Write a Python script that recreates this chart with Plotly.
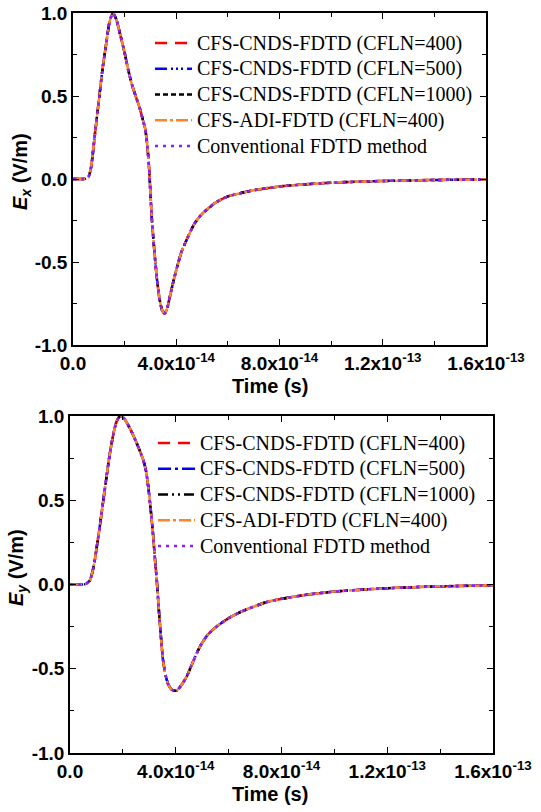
import plotly.graph_objects as go

# ---------------- data ----------------
# Top panel: Ex (V/m) vs time (s)
time_x = [0, 0.40e-14, 0.50e-14, 0.60e-14, 0.70e-14, 0.85e-14, 1.00e-14, 1.15e-14, 1.30e-14,
          1.42e-14, 1.55e-14, 1.68e-14, 1.83e-14, 2.00e-14, 2.15e-14, 2.30e-14, 2.45e-14,
          2.60e-14, 2.70e-14, 2.80e-14, 2.88e-14, 2.95e-14, 3.05e-14, 3.15e-14, 3.25e-14,
          3.35e-14, 3.45e-14, 3.55e-14, 3.65e-14, 3.75e-14, 3.90e-14, 4.05e-14, 4.20e-14,
          4.45e-14, 4.70e-14, 5.00e-14, 5.50e-14, 6.00e-14, 7.00e-14, 8.00e-14, 9.00e-14,
          1.0e-13, 1.2e-13, 1.4e-13, 1.6e-13]
ex_vals = [0, 0, 0.002, 0.012, 0.07, 0.27, 0.47, 0.67, 0.83,
           0.95, 1.00, 0.96, 0.87, 0.76, 0.65, 0.56, 0.49,
           0.42, 0.36, 0.30, 0.20, 0.06, -0.23, -0.43, -0.60,
           -0.72, -0.79, -0.81, -0.78, -0.71, -0.61, -0.52, -0.44,
           -0.35, -0.27, -0.21, -0.145, -0.105, -0.068, -0.045, -0.032,
           -0.022, -0.012, -0.006, -0.003]

# Bottom panel: Ey (V/m) vs time (s)
time_y = [0, 0.50e-14, 0.60e-14, 0.75e-14, 0.90e-14, 1.01e-14, 1.15e-14, 1.26e-14, 1.40e-14,
          1.51e-14, 1.65e-14, 1.76e-14, 1.90e-14, 2.05e-14, 2.20e-14, 2.35e-14, 2.52e-14,
          2.65e-14, 2.77e-14, 2.88e-14, 2.96e-14, 3.05e-14, 3.14e-14, 3.22e-14, 3.28e-14,
          3.37e-14, 3.45e-14, 3.52e-14, 3.62e-14, 3.71e-14, 3.85e-14, 4.03e-14, 4.20e-14,
          4.40e-14, 4.65e-14, 4.91e-14, 5.20e-14, 5.54e-14, 6.00e-14, 6.42e-14, 7.42e-14,
          8.00e-14, 9.00e-14, 1.0e-13, 1.2e-13, 1.4e-13, 1.6e-13]
ey_vals = [0, 0, 0.004, 0.024, 0.11, 0.22, 0.37, 0.50, 0.66,
           0.78, 0.90, 0.966, 1.0, 0.985, 0.946, 0.90, 0.84,
           0.79, 0.74, 0.67, 0.58, 0.45, 0.30, 0.14, 0.03,
           -0.17, -0.33, -0.45, -0.54, -0.59, -0.625, -0.63, -0.60,
           -0.55, -0.46, -0.37, -0.30, -0.25, -0.20, -0.165, -0.105,
           -0.085, -0.06, -0.042, -0.022, -0.011, -0.005]

series_names = ["CFS-CNDS-FDTD (CFLN=400)", "CFS-CNDS-FDTD (CFLN=500)",
                "CFS-CNDS-FDTD (CFLN=1000)", "CFS-ADI-FDTD (CFLN=400)",
                "Conventional FDTD method"]
series_colors = ["#FF0000", "#0000FF", "#000000", "#FF8426", "#8A1EFF"]
dash_top = ["12px,8px", "12px,4px,2px,3px,2px,3px,2px,4px", "5px,3px", "12px,3px,3px,3px", "3px,5px"]
dash_bot = ["12px,8px", "13px,4px,3px,4px", "10px,4px,2px,4px,2px,4px", "12px,3px,3px,3px", "3px,5px"]

x_tickvals = [0, 4e-14, 8e-14, 1.2e-13, 1.6e-13]
x_ticktext = ["0.0", "4.0x10<sup>-14</sup>", "8.0x10<sup>-14</sup>",
              "1.2x10<sup>-13</sup>", "1.6x10<sup>-13</sup>"]
y_tickvals = [-1.0, -0.5, 0.0, 0.5, 1.0]
y_ticktext = ["-1.0", "-0.5", "0.0", "0.5", "1.0"]

W, H = 541, 812

fig = go.Figure()

def add_series(t, v, xa, ya, dashes, legend):
    for name, col, dash in zip(series_names, series_colors, dashes):
        fig.add_trace(go.Scatter(
            x=t, y=v, xaxis=xa, yaxis=ya, mode="lines",
            name='<span style="font-size:20px">' + name + '</span>',
            line=dict(color=col, width=2.5, dash=dash, shape="spline", smoothing=0.6),
            legend=legend, hoverinfo="skip"))

add_series(time_x, ex_vals, "x", "y", dash_top, "legend")
add_series(time_y, ey_vals, "x2", "y2", dash_bot, "legend2")

xtickfont = dict(family="Liberation Sans, Arial", size=19, color="black", weight="bold")
ytickfont = dict(family="Liberation Sans, Arial", size=19, color="black", weight="bold")

def xaxis(domain, anchor):
    return dict(domain=domain, anchor=anchor, range=[0, 1.6e-13], tickmode="array",
                tickvals=x_tickvals, ticktext=x_ticktext, ticks="inside", ticklen=6,
                tickwidth=1.3, tickcolor="black", showline=True, linecolor="black",
                linewidth=1.6, mirror="ticks", showgrid=False, zeroline=False,
                tickfont=xtickfont, automargin=False,
                minor=dict(tickmode="linear", tick0=0, dtick=2e-14, ticks="inside",
                           ticklen=4, tickwidth=1.3, tickcolor="black", showgrid=False))

def yaxis(domain, anchor):
    return dict(domain=domain, anchor=anchor, range=[-1, 1], tickmode="array",
                tickvals=y_tickvals, ticktext=y_ticktext, ticks="inside", ticklen=6,
                tickwidth=1.3, tickcolor="black", showline=True, linecolor="black",
                linewidth=1.6, mirror="ticks", showgrid=False, zeroline=False,
                tickfont=ytickfont, automargin=False, ticklabelstandoff=0,
                minor=dict(tickmode="linear", tick0=0, dtick=0.25, ticks="inside",
                           ticklen=4, tickwidth=1.3, tickcolor="black", showgrid=False))

top_x = [73 / W, 486 / W]
top_y = [1 - 345 / H, 1 - 13 / H]
bot_x = [70 / W, 493 / W]
bot_y = [1 - 753 / H, 1 - 416 / H]

legend_common = dict(font=dict(family="Liberation Serif, Times New Roman", size=17.5, color="black"),
                     bgcolor="rgba(0,0,0,0)", borderwidth=0, itemwidth=37,
                     xanchor="left", yanchor="top", tracegroupgap=0)

titlefont = dict(family="Liberation Sans, Arial", size=20, color="black")

fig.update_layout(
    width=W, height=H, template="none",
    paper_bgcolor="white", plot_bgcolor="white",
    margin=dict(l=0, r=0, t=0, b=0),
    showlegend=True,
    xaxis=xaxis(top_x, "y"), yaxis=yaxis(top_y, "x"),
    xaxis2=xaxis(bot_x, "y2"), yaxis2=yaxis(bot_y, "x2"),
    legend=dict(x=150 / W, y=1 - 25 / H, **legend_common),
    legend2=dict(x=153 / W, y=1 - 425 / H, **legend_common),
    annotations=[
        dict(text="<b>Time (s)</b>", x=270 / W, y=1 - 386 / H, xref="paper", yref="paper",
             showarrow=False, font=titlefont, xanchor="center", yanchor="middle"),
        dict(text="<b>Time (s)</b>", x=270 / W, y=1 - 794 / H, xref="paper", yref="paper",
             showarrow=False, font=titlefont, xanchor="center", yanchor="middle"),
        dict(text="<b><i>E</i><sub><i>x</i></sub> (V/m)</b>", x=22 / W, y=1 - 172 / H,
             xref="paper", yref="paper", showarrow=False, font=titlefont, textangle=-90,
             xanchor="center", yanchor="middle"),
        dict(text="<b><i>E</i><sub><i>y</i></sub> (V/m)</b>", x=17 / W, y=1 - 568 / H,
             xref="paper", yref="paper", showarrow=False, font=titlefont, textangle=-90,
             xanchor="center", yanchor="middle"),
    ],
)

fig.write_html("out.html", config={"displayModeBar": False},
               post_script="document.body.style.margin='0px';document.body.style.overflow='hidden';")
